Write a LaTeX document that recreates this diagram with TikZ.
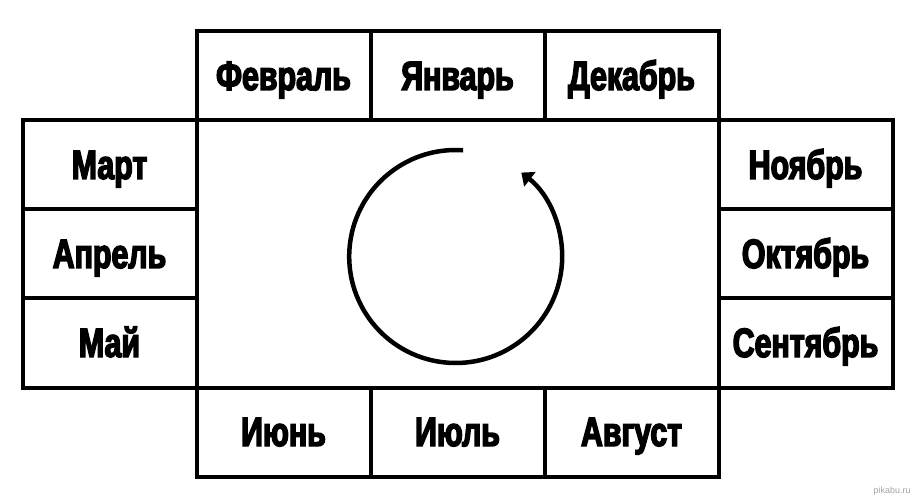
\documentclass[tikz,border=0pt]{standalone}
\usepackage{fontspec}
\newfontfamily\mfont{Liberation Sans Bold}[FakeStretch=0.74,FakeBold=3.5]
\newfontfamily\wfont{Liberation Sans}
\usetikzlibrary{arrows.meta}
\tikzset{
  cell/.style={draw, line width=4pt, minimum width=174pt, minimum height=89pt,
    inner sep=0pt, text height=28pt, text depth=0pt,
    font=\mfont\fontsize{41}{42}\selectfont},
  bigbox/.style={draw, line width=4pt, minimum width=522pt, minimum height=267pt, inner sep=0pt},
  cyclearrow/.style={line width=4.5pt, -{Triangle[length=11pt,width=18pt]}}
}
\begin{document}
\begin{tikzpicture}[x=1pt,y=-1pt]
\fill[white] (0,0) rectangle (920,502);
\useasboundingbox (0,0) rectangle (920,502);
\node[bigbox] (center) at (457.5,254) {};
% top row
\node[cell] (feb) at (283.5,76) {Февраль};
\node[cell] (jan) at (457.5,76) {Январь};
\node[cell] (dec) at (631.5,76) {Декабрь};
% left column
\node[cell] (mar) at (109.5,165) {Март};
\node[cell] (apr) at (109.5,254) {Апрель};
\node[cell] (may) at (109.5,343) {Май};
% right column
\node[cell] (nov) at (805.5,165) {Ноябрь};
\node[cell] (oct) at (805.5,254) {Октябрь};
\node[cell] (sep) at (805.5,343) {Сентябрь};
% bottom row
\node[cell] (jun) at (283.5,432) {Июнь};
\node[cell] (jul) at (457.5,432) {Июль};
\node[cell] (aug) at (631.5,432) {Август};
% cycle arrow
\coordinate (c) at (455.7,256.5);
\draw[cyclearrow] ([shift={(-86:106.5)}]c) arc[start angle=-86, end angle=-412, radius=106.5];
% watermark
\node[font=\wfont\fontsize{9}{10}\selectfont, text=gray!70] (wm) at (892,491) {pikabu.ru};
\end{tikzpicture}
\end{document}
